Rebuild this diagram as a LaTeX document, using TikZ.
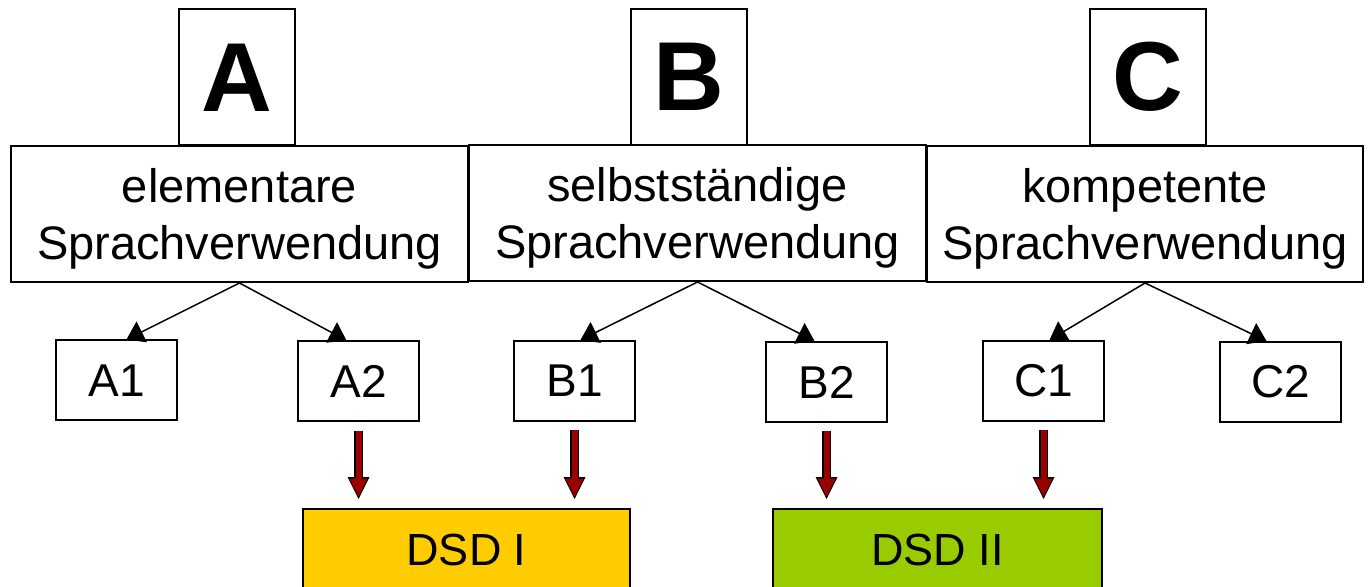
\documentclass[tikz,border=0pt]{standalone}
\usepackage{fontspec}
\setmainfont{Liberation Sans}
\usetikzlibrary{arrows.meta,calc}
\definecolor{arrowred}{RGB}{153,0,0}
\definecolor{dsdyellow}{RGB}{255,204,0}
\definecolor{dsdgreen}{RGB}{153,204,0}
\tikzset{
  box/.style={draw, line width=1pt, inner sep=0pt, align=center},
  letterbox/.style={box, minimum width=58pt, minimum height=68pt, font=\fontsize{49}{59}\selectfont\bfseries},
  levelbox/.style={box, minimum height=68pt, text depth=-1pt, font=\fontsize{23.5}{28.5}\selectfont},
  subbox/.style={box, minimum width=60.5pt, minimum height=40pt, font=\fontsize{23}{28}\selectfont},
  dsdbox/.style={box, minimum height=41pt, font=\fontsize{22.5}{27}\selectfont},
  branch/.style={line width=0.75pt, -{Triangle[length=8.5pt, width=11.5pt]}},
  redarrow/.style={draw=arrowred, line width=3pt, -{Triangle[length=9pt, width=9pt, line width=0pt]}, shorten >=1.2pt,
    preaction={draw=black, line width=4.2pt, -{Triangle[length=11pt, width=11pt, line width=0pt]}, shorten >=0pt}}
}
\begin{document}
\begin{tikzpicture}[x=0.5pt, y=-0.5pt]
  \useasboundingbox (0,0) rectangle (1370,587);
  \clip (0,0) rectangle (1370,587);

  % Niveaus
  \node[levelbox, minimum width=228.5pt] (Abig) at (239.5,214) {elementare\\Sprachverwendung};
  \node[levelbox, minimum width=228.5pt] (Bbig) at (697.5,213) {selbstständige\\Sprachverwendung};
  \node[levelbox, minimum width=218pt] (Cbig) at (1145,214) {kompetente\\Sprachverwendung};
  \node[letterbox] (A) at (237,77.5) {A};
  \node[letterbox] (B) at (689,77) {B};
  \node[letterbox] (C) at (1148,77) {C};

  % Stufen
  \foreach \n/\x/\y in {A1/116.5/380.5, A2/358.5/381.5, B1/574.5/381, B2/826.5/382, C1/1043.5/381, C2/1280.5/382}
    \node[subbox] (\n) at (\x,\y) {\n};

  % Pruefungen
  \node[dsdbox, fill=dsdyellow, minimum width=163.5pt] (DSD1) at (466.5,550) {DSD I};
  \node[dsdbox, fill=dsdgreen, minimum width=164.5pt] (DSD2) at (937.5,550) {DSD II};

  % Pfeile
  \foreach \p/\c/\dx in {Abig/A1/5, Abig/A2/-6, Bbig/B1/3, Bbig/B2/-6, Cbig/C1/3, Cbig/C2/-7}
    \draw[branch] (\p.south) -- ([xshift=\dx pt]\c.north);
  \foreach \s/\t in {A2/DSD1, B1/DSD1, B2/DSD2, C1/DSD2}
    \draw[redarrow] ($(\s.south)+(0,8)$) -- ($(\s.south |- \t.north)+(0,-9)$);
\end{tikzpicture}
\end{document}
